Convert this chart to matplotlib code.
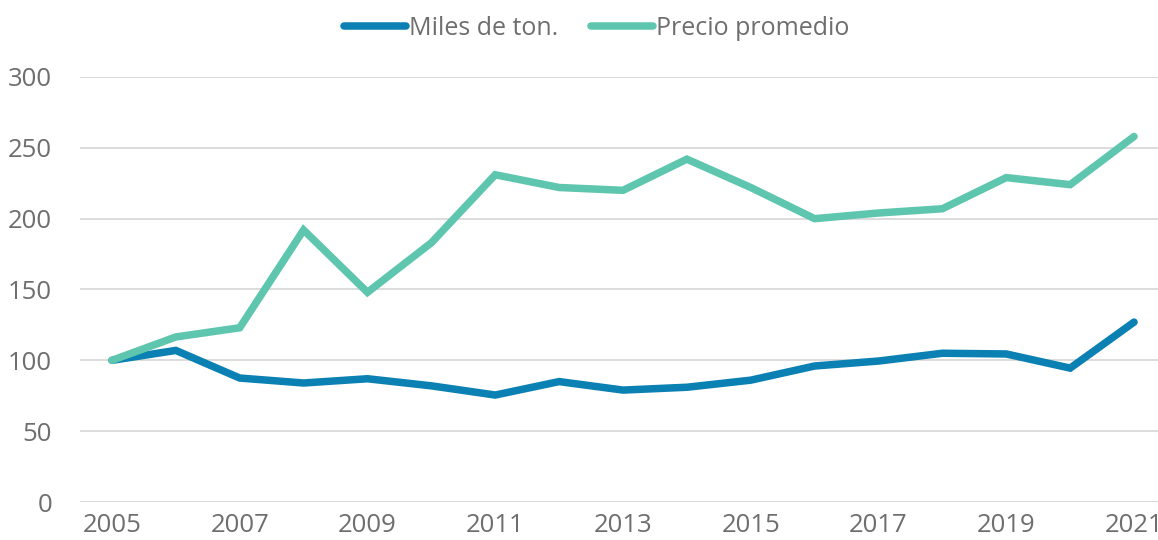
import matplotlib
matplotlib.use("Agg")
import matplotlib.pyplot as plt

years = list(range(2005, 2022))
miles_ton = [100, 107, 87.5, 84, 87, 82, 75.5, 85, 79, 81, 86, 96, 99.5, 105, 104.5, 94.5, 127]
precio_prom = [100, 116.5, 123, 192, 148, 183, 231, 222, 220, 242, 222, 200, 204, 207, 229, 224, 258]
xtick_labels = [str(y) for y in range(2005, 2022, 2)]
yticks = [0, 50, 100, 150, 200, 250, 300]

plt.rcParams['font.family'] = ['Open Sans', 'DejaVu Sans']
text_color = '#6e6e6e'

fig = plt.figure(figsize=(11.58, 5.4), dpi=100)
ax = fig.add_axes([80/1158, 38/540, 1 - 80/1158, 425/540])

ax.plot(years, miles_ton, color='#0A80B3', lw=5.4, solid_capstyle='round', solid_joinstyle='miter', label='Miles de ton.', zorder=3)
ax.plot(years, precio_prom, color='#5EC6AE', lw=5.4, solid_capstyle='round', solid_joinstyle='miter', label='Precio promedio', zorder=3)

ax.set_xlim(2004.5, 2021.375)
ax.set_ylim(0, 300)
ax.set_yticks(yticks)
ax.set_xticks(list(range(2005, 2022, 2)))
ax.set_xticklabels(xtick_labels)
ax.yaxis.grid(True, color='#d9d9d9', lw=1.3)
ax.set_axisbelow(True)
for s in ax.spines.values():
    s.set_visible(False)
ax.tick_params(axis='both', length=0, labelsize=18.5, labelcolor=text_color)
ax.tick_params(axis='y', pad=20)
ax.tick_params(axis='x', pad=8)

leg = fig.legend(loc='center', bbox_to_anchor=(0.515, 0.948), ncol=2, frameon=False,
                 fontsize=18, handlelength=2.5, handletextpad=0.1, columnspacing=1.3)
for t in leg.get_texts():
    t.set_color(text_color)

fig.savefig('out.png', dpi=100)
